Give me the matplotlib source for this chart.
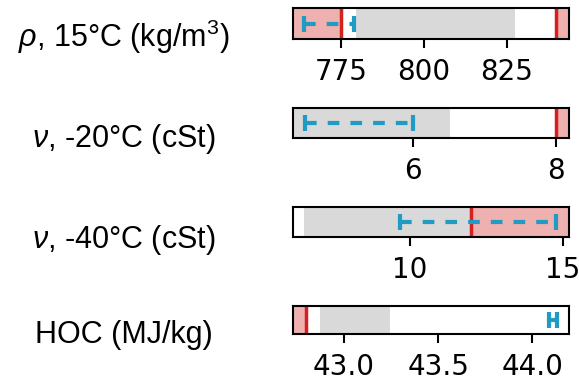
import matplotlib
matplotlib.use("Agg")
import matplotlib.pyplot as plt

# one row per property
labels = [r"$\rho$, 15°C (kg/m$^3$)", r"$\nu$, -20°C (cSt)",
          r"$\nu$, -40°C (cSt)", "HOC (MJ/kg)"]
xlims = [(760.5, 843.9), (4.317, 8.187), (6.18, 15.22), (42.73, 44.198)]
ticks = [[775, 800, 825], [6, 8], [10, 15], [43.0, 43.5, 44.0]]
tick_labels = [["775", "800", "825"], ["6", "8"], ["10", "15"], ["43.0", "43.5", "44.0"]]

# spec limits (red lines), out-of-spec shading goes from the limit to the axis edge
spec_min = [775, None, None, 42.8]
spec_max = [840, 8, 12, None]

# gray band (range of reference fuels)
band_lo = [779.4, 4.317, 6.53, 42.872]
band_hi = [827.6, 6.51, 11.99, 43.245]

# measured value with uncertainty
meas = [771.3, 5.24, 12.23, 44.11]
meas_err = [7.5, 0.76, 2.56, 0.02]

# pixel layout of the reference (top, bottom of each box, label baseline)
box_top = [8, 107.7, 207, 306]
box_bot = [39, 138.3, 237.3, 334.3]
label_base = [47.3, 146.7, 248.3, 343.3]

W, H = 579, 379
red = "#d62020"
pink = "#efb0b0"
gray = "#d9d9d9"
blue = "#1f9bc4"

plt.rcParams["mathtext.fontset"] = "custom"
plt.rcParams["mathtext.it"] = "Liberation Sans:italic"
plt.rcParams["mathtext.rm"] = "Liberation Sans"

fig = plt.figure(figsize=(W / 100, H / 100), dpi=100)

for i in range(4):
    ax = fig.add_axes([293.3 / W, 1 - box_bot[i] / H, 276 / W,
                       (box_bot[i] - box_top[i]) / H])
    lo, hi = xlims[i]
    ax.set_xlim(lo, hi)
    ax.set_ylim(0, 1)

    ax.axvspan(band_lo[i], band_hi[i], color=gray, lw=0, zorder=1)
    if spec_min[i] is not None:
        ax.axvspan(lo, spec_min[i], color=pink, lw=0, zorder=1)
        ax.axvline(spec_min[i], color=red, lw=2.5, zorder=3)
    if spec_max[i] is not None:
        ax.axvspan(spec_max[i], hi, color=pink, lw=0, zorder=1)
        ax.axvline(spec_max[i], color=red, lw=2.5, zorder=3)

    eb = ax.errorbar([meas[i]], [0.5], xerr=[meas_err[i]], fmt="none",
                     ecolor=blue, elinewidth=3, capsize=5.5, capthick=3,
                     zorder=4)
    eb.lines[2][0].set_linestyle((0, (2.8, 2.65)))

    ax.set_yticks([])
    ax.set_xticks(ticks[i])
    ax.set_xticklabels(tick_labels[i], fontsize=20)
    ax.tick_params(axis="x", length=6.5, width=1.5, pad=7)
    for s in ax.spines.values():
        s.set_linewidth(1.5)
        s.set_zorder(5)

    fig.text(124 / W, 1 - label_base[i] / H, labels[i], ha="center",
             va="baseline", fontsize=22, family="Liberation Sans")

fig.savefig("out.png", dpi=100)
